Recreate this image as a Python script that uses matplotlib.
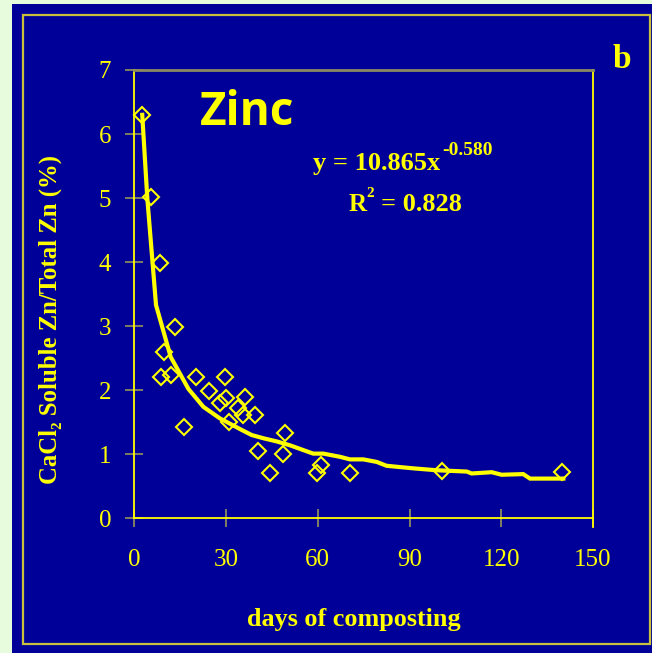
import matplotlib
matplotlib.use('Agg')
import matplotlib.pyplot as plt
from matplotlib.patches import Rectangle

# ---- data ----
days = [2.5, 5.5, 8.4, 13.3, 9.8, 8.7, 12.0, 16.3, 20.1, 24.5, 29.7, 29.9, 28.0,
        36.2, 34.0, 35.4, 39.5, 31.1, 49.3, 48.5, 40.5, 44.4, 61.0, 59.6, 70.5,
        100.5, 140.0]
ratio = [6.30, 5.01, 3.98, 2.99, 2.59, 2.21, 2.23, 1.43, 2.21, 1.99, 2.21, 1.88, 1.80,
         1.89, 1.72, 1.62, 1.62, 1.51, 1.33, 1.01, 1.05, 0.70, 0.83, 0.71, 0.71,
         0.74, 0.73]

trend_days = [2.6, 4.25, 7.1, 11.9, 17.7, 22.6, 28.0, 35.1, 38.4, 42.2, 46.6, 50.9,
              58.5, 61.8, 67.3, 70.5, 74.9, 79.3, 82.5, 91.2, 98.9, 108.7, 110.3,
              116.9, 120.1, 127.2, 129.4, 140.3]
trend_ratio = [6.30, 5.00, 3.33, 2.52, 2.02, 1.74, 1.56, 1.38, 1.30, 1.25, 1.20, 1.14,
               1.01, 1.01, 0.96, 0.92, 0.92, 0.88, 0.82, 0.78, 0.75, 0.73, 0.70,
               0.72, 0.68, 0.69, 0.62, 0.62]

x_ticks = [0, 30, 60, 90, 120, 150]
y_ticks = [0, 1, 2, 3, 4, 5, 6, 7]

title_text = "Zinc"
panel_letter = "b"
eq_main = "y = 10.865x"
eq_exp = "-0.580"
r2_value = "= 0.828"
x_label = "days of composting"
y_label = "CaCl\u2082 Soluble Zn/Total Zn (%)"

# ---- styling ----
W, H = 652, 653
BLUE = '#000099'
YEL = '#ffff00'
GREY = '#8a8a60'
FRAME = '#c8c03c'
SERIF = ['Liberation Serif', 'DejaVu Serif']

fig = plt.figure(figsize=(W / 100, H / 100), dpi=100)
fig.patch.set_facecolor('#e6fcdc')


def fx(px):
    return px / W


def fy(py):
    return (H - py) / H


fig.patches.append(Rectangle((fx(12), 0), 1 - fx(12), fy(4), transform=fig.transFigure,
                             facecolor=BLUE, edgecolor='none', zorder=-2))
fig.patches.append(Rectangle((fx(23), fy(644)), fx(650) - fx(23), fy(15) - fy(644),
                             transform=fig.transFigure, fill=False, edgecolor=FRAME,
                             lw=1.6, zorder=-1))

ax = fig.add_axes([fx(134.3), fy(518.3), fx(593) - fx(134.3), fy(70) - fy(518.3)])
ax.set_facecolor('none')
ax.set_zorder(1)

ax.plot(trend_days, trend_ratio, color=YEL, lw=3.0, solid_joinstyle='miter', zorder=3,
        clip_on=False)
ax.plot(days, ratio, linestyle='none', marker='D', markersize=8, markerfacecolor='none',
        markeredgecolor=YEL, markeredgewidth=1.5, zorder=4, clip_on=False)

ax.set_xlim(0, 150)
ax.set_ylim(0, 7)
ax.set_xticks(x_ticks)
ax.set_yticks(y_ticks)
ax.set_xticklabels([str(v) for v in x_ticks], family=SERIF, fontsize=18, color=YEL)
ax.set_yticklabels([str(v) for v in y_ticks], family=SERIF, fontsize=18, color=YEL)
ax.tick_params(axis='both', direction='inout', length=13.5, width=1.3, color=GREY)
ax.tick_params(axis='y', pad=10)
ax.tick_params(axis='x', pad=15)

for s in ['left', 'bottom', 'right']:
    ax.spines[s].set_color(YEL)
    ax.spines[s].set_linewidth(1.3)
ax.spines['top'].set_color(GREY)
ax.spines['top'].set_linewidth(2.0)
ax.spines['right'].set_bounds(-0.14, 7)

fig.text(fx(354), fy(626), x_label, family=SERIF, fontweight='bold', fontsize=18.8,
         color=YEL, ha='center', va='baseline')
fig.text(fx(50), fy(320), y_label, family=SERIF, fontweight='bold', fontsize=17.8,
         color=YEL, ha='center', va='center', rotation=90)

fig.text(fx(200), fy(125), title_text, family=['Open Sans', 'DejaVu Sans'],
         fontweight='bold', fontsize=33, color=YEL, ha='left', va='baseline')
fig.text(fx(613), fy(68), panel_letter, family=SERIF, fontweight='bold', fontsize=24,
         color=YEL, ha='left', va='baseline')

fig.text(fx(313), fy(170), eq_main, family=SERIF, fontweight='bold', fontsize=19,
         color=YEL, ha='left', va='baseline')
fig.text(fx(442), fy(155), eq_exp, family=SERIF, fontweight='bold', fontsize=14,
         color=YEL, ha='left', va='baseline')
fig.text(fx(349), fy(211), "R", family=SERIF, fontweight='bold', fontsize=18,
         color=YEL, ha='left', va='baseline')
fig.text(fx(366), fy(197), "2", family=SERIF, fontweight='bold', fontsize=11,
         color=YEL, ha='left', va='baseline')
fig.text(fx(462), fy(211), r2_value, family=SERIF, fontweight='bold', fontsize=19,
         color=YEL, ha='right', va='baseline')

fig.savefig('out.png', dpi=100, facecolor=fig.get_facecolor())
